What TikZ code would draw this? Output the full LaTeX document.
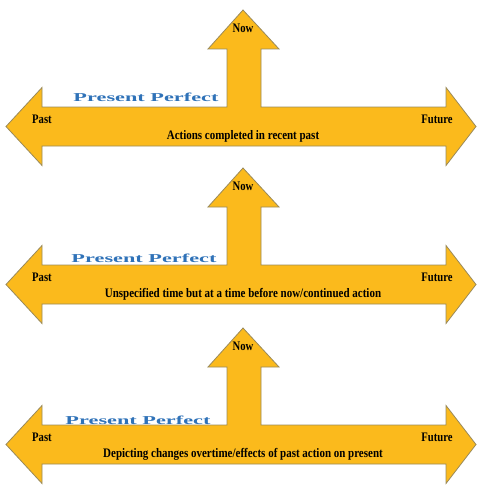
\documentclass[tikz,border=0pt]{standalone}
\usepackage{fontspec}
\setmainfont{Liberation Serif}
\usepackage{graphicx}
\definecolor{arrowfill}{HTML}{FBBA1C}
\definecolor{arrowedge}{HTML}{9A8A5A}
\definecolor{ppblue}{HTML}{2F72B8}
\tikzset{
  timearrow/.style={fill=arrowfill, draw=arrowedge, line width=0.8pt, line join=miter},
  lbl/.style={font=\bfseries\fontsize{13}{14}\selectfont, inner sep=0pt, text=black},
  pp/.style={font=\bfseries\fontsize{11}{12}\selectfont, inner sep=0pt, text=ppblue}
}
\begin{document}
\begin{tikzpicture}[x=1pt,y=-1pt]
\useasboundingbox (0,0) rectangle (478,487);
\foreach \i/\T/\ppx/\ppy/\txt in {
  1/10/146/97/{Actions completed in recent past},
  2/168/144/258/{Unspecified time but at a time before now/continued action},
  3/328/138/420/{Depicting changes overtime/effects of past action on present}} {
  \pgfmathsetmacro{\c}{\T+116.5}
  \pgfmathsetmacro{\top}{\T+97}
  \pgfmathsetmacro{\bot}{\T+136}
  \pgfmathsetmacro{\hb}{\T+39}
  \pgfmathsetmacro{\hu}{\c-39}
  \pgfmathsetmacro{\hd}{\c+39}
  \draw[timearrow] (6,\c) -- (42,\hu) -- (42,\top) -- (227,\top) -- (227,\hb) -- (208,\hb)
    -- (243,\T) -- (279,\hb) -- (261,\hb) -- (261,\top) -- (446,\top) -- (446,\hu)
    -- (476,\c) -- (446,\hd) -- (446,\bot) -- (42,\bot) -- (42,\hd) -- cycle;
  \node[lbl] (now\i) at (243,\T+18) {\scalebox{0.82}[1]{Now}};
  \node[lbl] (past\i) at (42,\c-7.5) {\scalebox{0.82}[1]{Past}};
  \node[lbl] (future\i) at (437,\c-7.5) {\scalebox{0.82}[1]{Future}};
  \node[lbl] (desc\i) at (243,\c+9.5) {\scalebox{0.845}[1]{\txt}};
  \node[pp] (pp\i) at (\ppx,\ppy) {\resizebox{145pt}{8.5pt}{Present Perfect}};
}
\end{tikzpicture}
\end{document}
